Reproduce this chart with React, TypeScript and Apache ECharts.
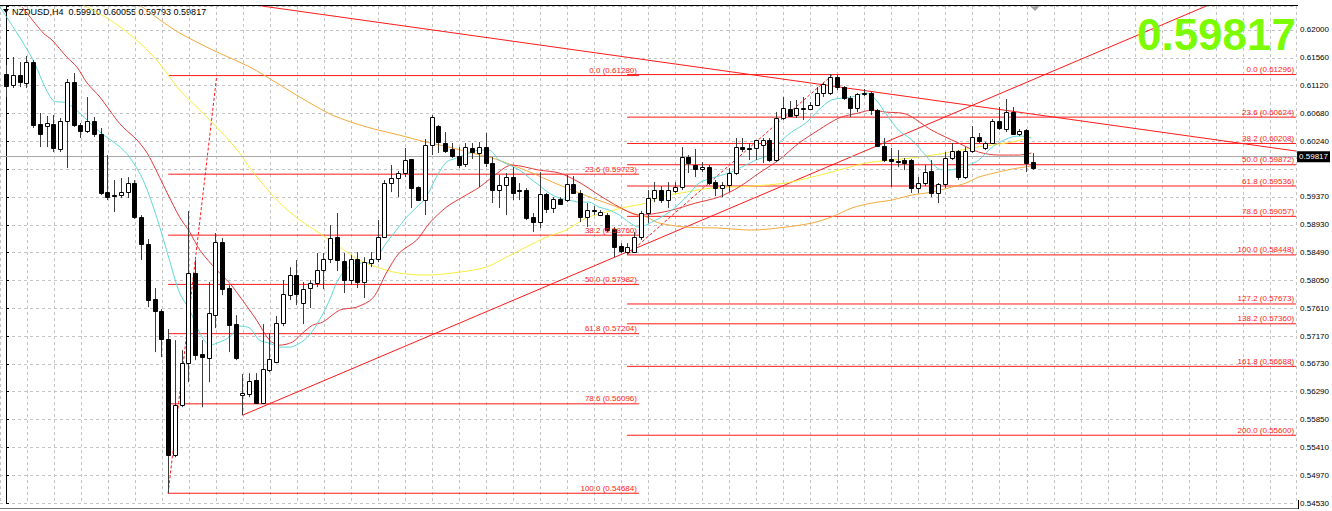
import React, { useEffect, useRef } from 'react';
import * as echarts from 'echarts';

// ---------- data ----------
const SYMBOL = 'NZDUSD,H4';
const LAST_BAR = [0.5991, 0.60055, 0.59793, 0.59817]; // O H L C of the last bar
const BID = 0.59817;

// right price axis (MT4 labels, bottom to top)
const Y_MIN = 0.5453;
const Y_STEP = 0.0043941;
const Y_MAX = 0.623789;
const Y_TICK_LABELS = [
  '0.54530', '0.54970', '0.55410', '0.55850', '0.56290', '0.56730', '0.57170', '0.57610', '0.58050',
  '0.58490', '0.58930', '0.59370', '', '0.60240', '0.60680', '0.61120', '0.61560', '0.62000',
];
// visible bar index range
const X_MIN = -0.887;
const X_MAX = 190.98;
const GRID_BARS = 4;

// candles: [open, high, low, close], one row per bar
const OHLC: number[][] = [
  [0.61305, 0.61447, 0.60941, 0.61115], [0.61131, 0.61573, 0.61084, 0.61289], [0.61289, 0.61494, 0.61099, 0.61178],
  [0.61163, 0.61589, 0.61084, 0.61494], [0.61494, 0.61526, 0.60452, 0.60499], [0.60515, 0.60689, 0.60151, 0.60357],
  [0.60483, 0.60641, 0.60151, 0.60531], [0.60515, 0.60657, 0.60072, 0.60136], [0.6012, 0.6061, 0.60072, 0.60562],
  [0.60562, 0.61226, 0.5982, 0.61178], [0.61178, 0.61321, 0.60468, 0.60499], [0.60499, 0.60531, 0.60294, 0.60404],
  [0.60404, 0.60941, 0.60373, 0.60562], [0.60562, 0.60625, 0.6031, 0.60357], [0.60357, 0.60452, 0.59393, 0.59425],
  [0.5944, 0.60025, 0.59314, 0.59361], [0.59393, 0.5963, 0.59124, 0.59377], [0.59393, 0.59662, 0.59346, 0.5944],
  [0.5944, 0.59677, 0.59346, 0.59583], [0.59583, 0.5963, 0.59014, 0.59045], [0.59045, 0.59077, 0.58366, 0.58619],
  [0.58619, 0.58698, 0.57623, 0.57734], [0.5775, 0.57924, 0.56913, 0.5756], [0.5756, 0.57592, 0.56834, 0.57118],
  [0.57118, 0.57276, 0.54684, 0.55284], [0.55284, 0.57102, 0.55253, 0.56075], [0.56075, 0.56944, 0.56043, 0.56739],
  [0.56739, 0.5914, 0.56438, 0.58161], [0.58161, 0.58366, 0.56786, 0.56865], [0.56881, 0.57102, 0.56043, 0.56834],
  [0.56818, 0.58018, 0.56438, 0.57529], [0.57497, 0.58793, 0.57292, 0.5865], [0.5865, 0.58714, 0.57813, 0.57908],
  [0.57924, 0.57971, 0.56913, 0.57339], [0.57355, 0.57497, 0.56786, 0.56818], [0.56233, 0.56565, 0.55917, 0.56265],
  [0.56249, 0.56581, 0.56201, 0.56454], [0.5647, 0.56581, 0.561, 0.56107], [0.56107, 0.57355, 0.561, 0.56644],
  [0.56628, 0.57213, 0.56596, 0.56802], [0.56754, 0.57481, 0.56739, 0.57371], [0.57371, 0.5805, 0.57323, 0.57829],
  [0.57813, 0.58255, 0.57734, 0.58129], [0.58129, 0.58366, 0.57655, 0.57829], [0.57687, 0.58018, 0.57355, 0.57908],
  [0.57924, 0.5805, 0.5761, 0.58003], [0.58003, 0.58477, 0.57939, 0.58208], [0.58208, 0.58477, 0.57908, 0.58382],
  [0.58382, 0.58919, 0.58319, 0.58714], [0.58729, 0.59109, 0.58192, 0.58366], [0.5835, 0.58477, 0.57845, 0.5805],
  [0.5805, 0.58445, 0.57971, 0.58382], [0.58382, 0.58492, 0.57924, 0.58018], [0.58018, 0.58413, 0.57766, 0.58334],
  [0.58319, 0.58492, 0.58255, 0.58382], [0.58382, 0.58998, 0.58334, 0.58729], [0.58729, 0.5963, 0.58729, 0.59583],
  [0.59583, 0.59867, 0.5944, 0.59662], [0.59662, 0.59772, 0.59361, 0.59741], [0.59741, 0.60136, 0.59677, 0.59946],
  [0.59962, 0.59962, 0.59188, 0.59504], [0.59519, 0.5953, 0.593, 0.59314], [0.59314, 0.60278, 0.59077, 0.60183],
  [0.60183, 0.60657, 0.60025, 0.60625], [0.60483, 0.60499, 0.60057, 0.6023], [0.60215, 0.60388, 0.60057, 0.60088],
  [0.6012, 0.60215, 0.59978, 0.60009], [0.60009, 0.60151, 0.5982, 0.59867], [0.59883, 0.60215, 0.59835, 0.60151],
  [0.60136, 0.60215, 0.59962, 0.60072], [0.60057, 0.6023, 0.59519, 0.60151], [0.60151, 0.60373, 0.59835, 0.59899],
  [0.59899, 0.59993, 0.59267, 0.59472], [0.59472, 0.59709, 0.59188, 0.59551], [0.59551, 0.59741, 0.59077, 0.59677],
  [0.59677, 0.59835, 0.59314, 0.59425], [0.5948, 0.59583, 0.59314, 0.59465], [0.59472, 0.59504, 0.58998, 0.5903],
  [0.59045, 0.59109, 0.58808, 0.58966], [0.58966, 0.59756, 0.58872, 0.59409], [0.59409, 0.59425, 0.59109, 0.59172],
  [0.59188, 0.59361, 0.59109, 0.5933], [0.5933, 0.59361, 0.59235, 0.59251], [0.59314, 0.59709, 0.59282, 0.59567],
  [0.59567, 0.59693, 0.59409, 0.59425], [0.59425, 0.59472, 0.58966, 0.59045], [0.59045, 0.59267, 0.58887, 0.59156],
  [0.5915, 0.59219, 0.59077, 0.5914], [0.59077, 0.59156, 0.59061, 0.59124], [0.59077, 0.59109, 0.58808, 0.5884],
  [0.58856, 0.58887, 0.58413, 0.58571], [0.58587, 0.58635, 0.58477, 0.58508], [0.58492, 0.58635, 0.58461, 0.58571],
  [0.58492, 0.58808, 0.58477, 0.58729], [0.58729, 0.5914, 0.58682, 0.59109], [0.59109, 0.59472, 0.58951, 0.59346],
  [0.59346, 0.59598, 0.59282, 0.59472], [0.59472, 0.59535, 0.59267, 0.59314], [0.59314, 0.59598, 0.59188, 0.59472],
  [0.59456, 0.59598, 0.59425, 0.59519], [0.59519, 0.60151, 0.59472, 0.59993], [0.59993, 0.60025, 0.59741, 0.59899],
  [0.59867, 0.6012, 0.59677, 0.59804], [0.59804, 0.59914, 0.59756, 0.59835], [0.59835, 0.59867, 0.59551, 0.59583],
  [0.59598, 0.5963, 0.59377, 0.59504], [0.59504, 0.59598, 0.59361, 0.59551], [0.59551, 0.5982, 0.5944, 0.59741],
  [0.59741, 0.60294, 0.59709, 0.60151], [0.60151, 0.60294, 0.60072, 0.6012], [0.6014, 0.60215, 0.59946, 0.6013],
  [0.60136, 0.60262, 0.59946, 0.60262], [0.60183, 0.60294, 0.59899, 0.60262], [0.60262, 0.60294, 0.59914, 0.59946],
  [0.59946, 0.60704, 0.59914, 0.6061], [0.6061, 0.60941, 0.60578, 0.60768], [0.60752, 0.60878, 0.60625, 0.60641],
  [0.60657, 0.60894, 0.6061, 0.60768], [0.60752, 0.60941, 0.60578, 0.60768], [0.60752, 0.60862, 0.60736, 0.60815],
  [0.60815, 0.61099, 0.60799, 0.61005], [0.61005, 0.61163, 0.60941, 0.61147], [0.61005, 0.61305, 0.60973, 0.61257],
  [0.61257, 0.61289, 0.61052, 0.61099], [0.61099, 0.61115, 0.60894, 0.60926], [0.60926, 0.60957, 0.60625, 0.60768],
  [0.60768, 0.61005, 0.60704, 0.60989], [0.61, 0.61068, 0.60957, 0.6101], [0.61005, 0.61021, 0.60657, 0.60736],
  [0.60736, 0.60752, 0.60151, 0.60167], [0.60167, 0.60294, 0.59914, 0.59946], [0.59962, 0.60136, 0.59519, 0.5993],
  [0.59935, 0.60104, 0.59835, 0.59925], [0.59946, 0.59978, 0.59788, 0.59899], [0.59946, 0.59962, 0.59425, 0.59504],
  [0.59504, 0.59677, 0.59425, 0.59583], [0.59583, 0.59867, 0.59535, 0.59756], [0.59772, 0.59946, 0.59361, 0.59425],
  [0.59425, 0.59583, 0.59267, 0.59567], [0.59567, 0.60072, 0.59504, 0.59978], [0.59978, 0.60215, 0.59946, 0.60088],
  [0.60088, 0.60104, 0.5963, 0.59677], [0.59677, 0.60151, 0.59646, 0.60088], [0.60088, 0.60483, 0.60057, 0.6031],
  [0.6031, 0.60373, 0.60215, 0.60246], [0.60136, 0.6023, 0.60104, 0.60215], [0.60215, 0.60594, 0.60199, 0.60562],
  [0.60562, 0.60783, 0.6042, 0.60452], [0.60436, 0.6091, 0.60388, 0.60704], [0.60704, 0.60783, 0.60341, 0.60357],
  [0.60357, 0.60436, 0.60325, 0.60404], [0.6042, 0.60436, 0.59756, 0.59899], [0.5991, 0.60055, 0.59793, 0.59817],
];

// moving averages: [bar index, price]
const MA_CYAN: number[][] = [
  [-0.9, 0.62363], [2.1, 0.61874], [4.0, 0.61526], [6.9, 0.60894], [9.0, 0.60847], [10.9, 0.60689], [13.9, 0.60388],
  [16.9, 0.60151], [18.3, 0.59993], [20.3, 0.5963], [22.3, 0.59045], [24.2, 0.58366], [25.7, 0.57845], [27.2, 0.57576],
  [28.7, 0.57213], [30.2, 0.57023], [31.6, 0.57071], [33.1, 0.5715], [34.6, 0.57323], [36.1, 0.57292], [37.5, 0.57102],
  [39.0, 0.57055], [40.5, 0.56991], [42.0, 0.56991], [43.5, 0.57055], [44.9, 0.57181], [46.4, 0.57418], [47.9, 0.57734],
  [49.4, 0.58098], [51.9, 0.58319], [53.4, 0.58319], [54.8, 0.58398], [56.3, 0.58635], [57.8, 0.5884], [59.3, 0.59045],
  [60.8, 0.59203], [62.2, 0.59361], [63.7, 0.59677], [65.2, 0.59914], [66.7, 0.59978], [68.6, 0.60057], [70.1, 0.60104],
  [71.5, 0.60104], [73.0, 0.59946], [74.5, 0.59867], [76.0, 0.59788], [77.5, 0.59662], [78.9, 0.59551], [80.4, 0.59425],
  [81.9, 0.59346], [83.4, 0.59314], [84.8, 0.59282], [86.3, 0.59282], [87.8, 0.59203], [89.3, 0.59156], [90.8, 0.59077],
  [92.2, 0.58966], [93.7, 0.58887], [95.6, 0.58966], [98.2, 0.59124], [100.7, 0.59361], [102.6, 0.59583], [104.5, 0.59662],
  [107.0, 0.59741], [108.9, 0.59835], [111.0, 0.59946], [112.9, 0.60025], [114.4, 0.60215], [116.3, 0.60388],
  [118.4, 0.60531], [120.3, 0.60736], [122.2, 0.60894], [125.2, 0.60941], [127.3, 0.61005], [128.8, 0.60894],
  [130.2, 0.60689], [132.1, 0.6042], [134.1, 0.60262], [136.1, 0.60025], [138.1, 0.59804], [139.5, 0.59788],
  [141.0, 0.5982], [142.5, 0.59867], [144.0, 0.59946], [145.5, 0.60104], [146.9, 0.60215], [148.9, 0.6031],
  [150.3, 0.60325], [151.8, 0.60294],
];
const MA_RED: number[][] = [
  [2.4, 0.62363], [5.5, 0.61953], [6.8, 0.61842], [9.0, 0.61573], [10.5, 0.61415], [12.0, 0.61163], [13.9, 0.60941],
  [16.4, 0.60578], [17.3, 0.60468], [19.4, 0.60262], [20.8, 0.60072], [21.7, 0.59899], [23.8, 0.5944], [25.7, 0.59045],
  [27.2, 0.58808], [28.7, 0.58524], [31.2, 0.58208], [33.1, 0.58003], [35.0, 0.57734], [37.1, 0.57418], [39.0, 0.57102],
  [40.5, 0.57023], [42.4, 0.57071], [43.9, 0.57213], [45.4, 0.57339], [46.9, 0.57387], [49.4, 0.57576], [51.9, 0.57623],
  [54.3, 0.57766], [56.3, 0.58161], [58.2, 0.58477], [60.8, 0.58682], [62.7, 0.58951], [65.2, 0.59203], [67.6, 0.59361],
  [70.1, 0.59519], [72.0, 0.59677], [74.9, 0.59867], [78.9, 0.59788], [81.9, 0.59741], [84.8, 0.59598], [87.8, 0.59393],
  [90.8, 0.59203], [93.7, 0.59077], [95.6, 0.59093], [98.6, 0.59156], [102.1, 0.59267], [105.5, 0.59361],
  [108.5, 0.59519], [111.5, 0.59741], [114.4, 0.59946], [117.4, 0.60215], [120.3, 0.6042], [123.3, 0.6061],
  [126.2, 0.60689], [128.2, 0.60736], [130.2, 0.60704], [133.2, 0.60673], [137.0, 0.6042], [141.0, 0.60215],
  [144.0, 0.60072], [146.9, 0.60025], [149.9, 0.60025], [151.8, 0.60057],
];
const MA_YELLOW: number[][] = [
  [11.4, 0.62395], [15.4, 0.62158], [18.8, 0.61889], [22.3, 0.61526], [25.7, 0.61052], [28.7, 0.60736], [31.6, 0.6042],
  [34.6, 0.60057], [36.1, 0.5982], [40.1, 0.59314], [43.5, 0.58998], [46.4, 0.58793], [49.4, 0.58571], [52.3, 0.58366],
  [55.3, 0.5824], [58.2, 0.58161], [62.2, 0.58129], [67.1, 0.58176], [71.1, 0.58255], [74.1, 0.58413], [77.0, 0.58571],
  [80.0, 0.58729], [82.9, 0.5884], [85.9, 0.5903], [88.8, 0.59124], [91.8, 0.59203], [94.8, 0.59267], [96.7, 0.59361],
  [100.7, 0.5944], [104.5, 0.59504], [110.4, 0.59535], [115.4, 0.59583], [119.3, 0.59677], [123.3, 0.59788],
  [127.3, 0.59899], [131.1, 0.59946], [135.1, 0.59993], [139.1, 0.60057], [142.9, 0.60136], [145.9, 0.60183],
  [148.9, 0.6023], [151.8, 0.6031],
];
const MA_ORANGE: number[][] = [
  [19.8, 0.62395], [22.8, 0.62158], [25.7, 0.61953], [30.6, 0.61684], [36.1, 0.61415], [40.1, 0.61163], [43.5, 0.60941],
  [48.3, 0.60657], [53.4, 0.60468], [58.2, 0.60341], [62.2, 0.6023], [65.6, 0.60151], [69.0, 0.60057], [72.0, 0.59978],
  [74.9, 0.59867], [77.9, 0.59741], [80.9, 0.59598], [83.8, 0.59472], [86.8, 0.59346], [89.7, 0.59235], [92.7, 0.59109],
  [94.8, 0.59045], [96.7, 0.58951], [100.7, 0.58887], [105.5, 0.58872], [110.4, 0.5884], [115.4, 0.58887],
  [119.3, 0.58951], [122.2, 0.59045], [125.2, 0.59188], [128.2, 0.59267], [131.1, 0.59314], [134.1, 0.59393],
  [137.0, 0.5944], [140.0, 0.59519], [142.1, 0.59583], [144.0, 0.59677], [146.9, 0.59756], [148.9, 0.59804],
  [151.8, 0.59851],
];

// Fibonacci retracements
const FIB1_LEVELS = ['0.0', '23.6', '38.2', '50.0', '61.8', '78.6', '100.0'];
const FIB1_PRICES = [0.6128, 0.59723, 0.5876, 0.57982, 0.57204, 0.56096, 0.54684];
const FIB1_SPAN = [24, 93.7];
const FIB1_ANCHORS: number[][] = [[24, 0.54684], [31.2, 0.6128]];

const FIB2_LEVELS = ['0.0', '23.6', '38.2', '50.0', '61.8', '78.6', '100.0', '127.2', '138.2', '161.8', '200.0'];
const FIB2_PRICES = [0.61296, 0.60624, 0.60208, 0.59872, 0.59536, 0.59057, 0.58448, 0.57673, 0.5736, 0.56688, 0.556];
const FIB2_SPAN = [91.94, 190.98];
const FIB2_ANCHORS: number[][] = [[91.94, 0.58448], [122.4, 0.61296]];

// trend lines: two points each [bar, price]
const TREND_DOWN: number[][] = [[37.84, 0.62379], [190.98, 0.60088]];
const TREND_UP: number[][] = [[35.03, 0.55917], [177.7, 0.62379]];

// ---------- chart ----------
const FONT = 'Liberation Sans';
const FIB_RED = '#ff1a1a';

function lineSeries(data: number[][], color: string, z = 4, dashed = false, smooth: number | boolean = false) {
  return {
    type: 'line',
    data,
    showSymbol: false,
    symbol: 'none',
    silent: true,
    smooth,
    z,
    lineStyle: { color, width: 1, type: dashed ? [3, 2] : 'solid', opacity: 1 },
    emphasis: { disabled: true },
  };
}

// each level: a 2-point line series; label through a transparent markLine
function fibSeries(levels: string[], prices: number[], span: number[]) {
  const out: any[] = [];
  levels.forEach((lv, i) => {
    out.push(lineSeries([[span[0], prices[i]], [span[1], prices[i]]], FIB_RED, 2));
  });
  out.push({
    type: 'line',
    data: [],
    silent: true,
    z: 6,
    markLine: {
      silent: true,
      symbol: ['none', 'none'],
      animation: false,
      lineStyle: { color: 'rgba(255,255,255,0)', width: 1, type: 'solid' },
      emphasis: { disabled: true },
      label: {
        show: true,
        position: 'insideEndTop',
        formatter: '{b}',
        color: FIB_RED,
        fontSize: 8,
        fontFamily: FONT,
        distance: [2, 1],
      },
      data: levels.map((lv, i) => [
        { name: `${lv} (${prices[i].toFixed(5)})`, coord: [span[0], prices[i]] },
        { coord: [span[1], prices[i]] },
      ]),
    },
  });
  return out;
}

export default function App() {
  const ref = useRef<HTMLDivElement>(null);

  useEffect(() => {
    if (!ref.current) return;
    const chart = echarts.init(ref.current, undefined, { renderer: 'svg' });

    const candleData = OHLC.map((r, i) => [i, r[0], r[1], r[2], r[3]]);
    const title = `${SYMBOL}  ${LAST_BAR.map((v) => v.toFixed(5)).join(' ')}`;

    const option: any = {
      animation: false,
      backgroundColor: '#ffffff',
      grid: { left: 0, top: 6, right: 34, bottom: 8, containLabel: false },
      xAxis: {
        type: 'value',
        min: X_MIN,
        max: X_MAX,
        interval: GRID_BARS,
        axisLabel: { show: false },
        axisLine: { show: false },
        axisTick: { show: false },
        splitLine: { show: true, lineStyle: { color: '#c4c4c4', width: 1, type: [3, 3] } },
      },
      yAxis: {
        type: 'value',
        position: 'right',
        min: Y_MIN,
        max: Y_MAX,
        interval: Y_STEP,
        axisLine: { show: true, lineStyle: { color: '#000', width: 1 } },
        axisTick: { show: true, length: 3, lineStyle: { color: '#000' } },
        axisLabel: {
          show: true,
          margin: 4,
          fontSize: 8,
          fontFamily: FONT,
          color: '#000',
          showMinLabel: true,
          showMaxLabel: true,
          formatter: (v: number) => {
            const j = Math.round((v - Y_MIN) / Y_STEP);
            if (Math.abs(Y_MIN + j * Y_STEP - v) > 1e-6) return '';
            return Y_TICK_LABELS[j] ?? '';
          },
        },
        splitLine: { show: true, lineStyle: { color: '#c4c4c4', width: 1, type: [3, 3] } },
      },
      series: [
        // bid line + price tag
        {
          type: 'line',
          data: [],
          silent: true,
          z: 1,
          markLine: {
            silent: true,
            symbol: ['none', 'none'],
            animation: false,
            lineStyle: { color: '#a8a8a8', width: 1, type: 'solid' },
            label: {
              show: true,
              position: 'end',
              formatter: BID.toFixed(5),
              color: '#fff',
              backgroundColor: '#000',
              padding: [2, 2, 1, 2],
              fontSize: 8,
              fontFamily: FONT,
              distance: 1,
            },
            data: [{ yAxis: BID }],
          },
        },
        ...fibSeries(FIB1_LEVELS, FIB1_PRICES, FIB1_SPAN),
        ...fibSeries(FIB2_LEVELS, FIB2_PRICES, FIB2_SPAN),
        lineSeries(FIB1_ANCHORS, FIB_RED, 2, true),
        lineSeries(FIB2_ANCHORS, FIB_RED, 2, true),
        lineSeries(TREND_DOWN, FIB_RED, 2),
        lineSeries(TREND_UP, FIB_RED, 2),
        lineSeries(MA_ORANGE, '#f2a93b', 3, false, 0.3),
        lineSeries(MA_YELLOW, '#f7ee3c', 3, false, 0.3),
        lineSeries(MA_RED, '#e43a3a', 3, false, 0.3),
        lineSeries(MA_CYAN, '#5fd8d8', 3, false, 0.3),
        {
          type: 'custom',
          data: candleData,
          encode: { x: 0, y: [1, 2, 3, 4] },
          silent: true,
          clip: true,
          z: 5,
          renderItem: (_p: any, api: any) => {
            const i = api.value(0);
            const o = api.value(1);
            const h = api.value(2);
            const l = api.value(3);
            const c = api.value(4);
            const x = api.coord([i, o])[0];
            const yo = api.coord([i, o])[1];
            const yc = api.coord([i, c])[1];
            const yh = api.coord([i, h])[1];
            const yl = api.coord([i, l])[1];
            const cx = Math.round(x) + 0.5;
            const top = Math.round(Math.min(yo, yc)) + 0.5;
            const bh = Math.max(Math.round(Math.abs(yc - yo)), 1);
            const bull = c >= o;
            return {
              type: 'group',
              children: [
                {
                  type: 'line',
                  shape: { x1: cx, y1: yh, x2: cx, y2: yl },
                  style: { stroke: '#3c3c3c', lineWidth: 1 },
                },
                {
                  type: 'rect',
                  shape: { x: cx - 2, y: top, width: 4, height: bh },
                  style: { fill: bull ? '#ffffff' : '#000000', stroke: '#000000', lineWidth: 1 },
                },
              ],
            };
          },
        },
      ],
      graphic: [
        { type: 'line', silent: true, shape: { x1: 0, y1: 5.5, x2: 1298, y2: 5.5 }, style: { stroke: '#000', lineWidth: 1 } },
        { type: 'line', silent: true, shape: { x1: 0, y1: 508.5, x2: 1298.5, y2: 508.5 }, style: { stroke: '#777', lineWidth: 1 } },
        { type: 'line', silent: true, shape: { x1: 1298.5, y1: 500, x2: 1298.5, y2: 509 }, style: { stroke: '#000', lineWidth: 1 } },
        { type: 'polygon', silent: true, shape: { points: [[3, 9], [9, 9], [6, 13]] }, style: { fill: '#000' } },
        {
          type: 'text',
          silent: true,
          style: {
            x: 12, y: 12, text: title, fill: '#000', fontSize: 9, fontFamily: FONT,
            textAlign: 'left', textVerticalAlign: 'middle', align: 'left', verticalAlign: 'middle',
          },
        },
        {
          type: 'polygon', silent: true,
          shape: { points: [[1030, 6], [1040, 6], [1035, 11]] }, style: { fill: '#a0a0a0' },
        },
        {
          type: 'text',
          silent: true,
          z: 100,
          style: {
            x: 1296, y: 34, text: LAST_BAR[3].toFixed(5), fill: '#7cfc00',
            fontSize: 44, fontWeight: 'bold', fontFamily: FONT,
            textAlign: 'right', textVerticalAlign: 'middle', align: 'right', verticalAlign: 'middle',
          },
        },
      ],
    };

    chart.setOption(option);
    return () => chart.dispose();
  }, []);

  return (
    <div
      ref={ref}
      style={{ position: 'fixed', left: 0, top: 0, width: 1332, height: 511, background: '#fff' }}
    />
  );
}
